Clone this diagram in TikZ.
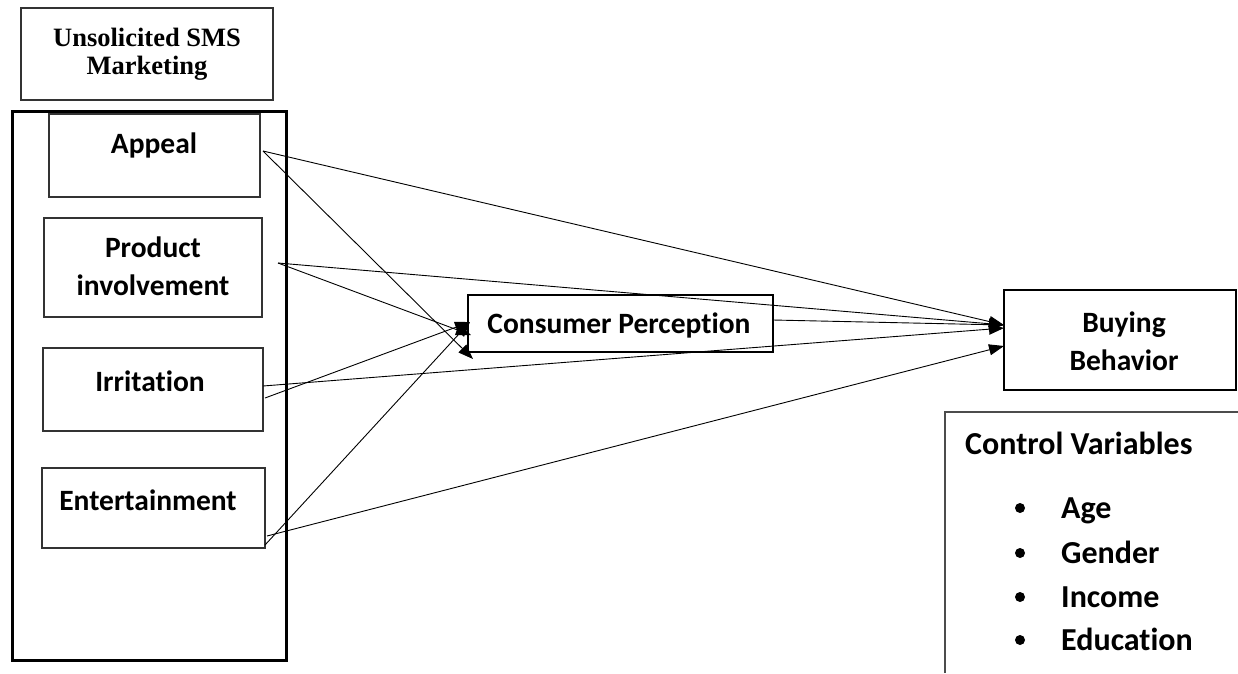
\documentclass[tikz,border=0pt]{standalone}
\usepackage{fontspec}
\setmainfont{Carlito}[Ligatures={NoCommon}]
\newfontfamily\timesfont{Liberation Serif}
\usetikzlibrary{arrows.meta}
\tikzset{
  box/.style={draw=black!80, line width=1.5pt, rectangle, inner sep=0pt},
  bigbox/.style={draw=black, line width=2pt, rectangle, inner sep=0pt},
  lbl/.style={font=\fontsize{29.5}{37.5}\selectfont\bfseries, align=center, inner sep=0pt},
  cvlbl/.style={font=\fontsize{32}{38}\selectfont\bfseries, inner sep=0pt, text height=20pt, text depth=0pt},
  link/.style={line width=0.9pt, -{Triangle[length=15pt,width=11pt]}},
}
\begin{document}
\begin{tikzpicture}[x=1pt,y=-1pt]
\useasboundingbox (0,0) rectangle (1238,673);
% top title box
\node[box, minimum width=252pt, minimum height=92pt] (title) at (147,54) {};
\node[font=\timesfont\fontsize{26.5}{27.5}\selectfont\bfseries, align=center, inner sep=0pt] (titletxt) at (147,54) {Unsolicited SMS\\Marketing};
% outer group box
\node[draw=black, line width=3pt, minimum width=274pt, minimum height=549pt, inner sep=0pt] (outer) at (149,385.5) {};
% inner boxes
\node[box, minimum width=211pt, minimum height=83pt] (appeal) at (154.5,155.5) {};
\node[lbl] (appealtxt) at (154,145) {Appeal};
\node[box, minimum width=218pt, minimum height=99pt] (prod) at (153,267.5) {};
\node[lbl] (prodtxt) at (153,266) {Product\\involvement};
\node[box, minimum width=220pt, minimum height=83pt] (irr) at (153,389.5) {};
\node[lbl] (irrtxt) at (150,381) {Irritation};
\node[box, minimum width=223pt, minimum height=80pt] (ent) at (153.5,508) {};
\node[lbl] (enttxt) at (148,500) {Entertainment};
% consumer perception
\node[bigbox, minimum width=305pt, minimum height=57pt] (cp) at (620.5,323.5) {};
\node[lbl] (cptxt) at (619,325) {Consumer Perception};
% buying behavior
\node[bigbox, minimum width=232pt, minimum height=100pt] (bb) at (1120,340) {};
\node[lbl] (bbtxt) at (1124,341) {Buying\\Behavior};
% control variables
\coordinate (cvtl) at (945,412);
\coordinate (cvbl) at (945,673);
\coordinate (cvtr) at (1240,412);
\draw[draw=black!70, line width=1.5pt] (cvbl) -- (cvtl) -- (cvtr);
\node[cvlbl, anchor=west] (cvtitle) at (965,444) {Control Variables};
\foreach \y/\t/\n in {508/Age/a, 553/Gender/g, 597/Income/i, 640/Education/e}{
  \node[circle, fill=black, minimum size=10pt, inner sep=0pt] (bul\n) at (1020,\y) {};
  \node[cvlbl, anchor=west] (item\n) at (1061,\y) {\t};
}
% connector end points
\coordinate (aS) at (263,151);
\coordinate (pS) at (278,263);
\coordinate (iS1) at (263,386);
\coordinate (iS2) at (265,398);
\coordinate (eS1) at (265,545);
\coordinate (eS2) at (267,536);
\coordinate (cpS) at (773,320);
\coordinate (cpA) at (473,359);
\coordinate (cpP) at (471,335);
\coordinate (cpU) at (470,322);
\coordinate (bbT) at (1004,325);
\coordinate (bbT2) at (1004,328);
\coordinate (bbL) at (1004,346);
% connectors
\draw[link] (aS) -- (bbT);
\draw[link] (aS) -- (cpA);
\draw[link] (pS) -- (bbT);
\draw[link] (pS) -- (cpP);
\draw[link] (iS1) -- (bbT2);
\draw[link] (iS2) -- (cpU);
\draw[link] (eS1) -- (cpU);
\draw[link] (eS2) -- (bbL);
\draw[link] (cpS) -- (bbT);
\end{tikzpicture}
\end{document}
